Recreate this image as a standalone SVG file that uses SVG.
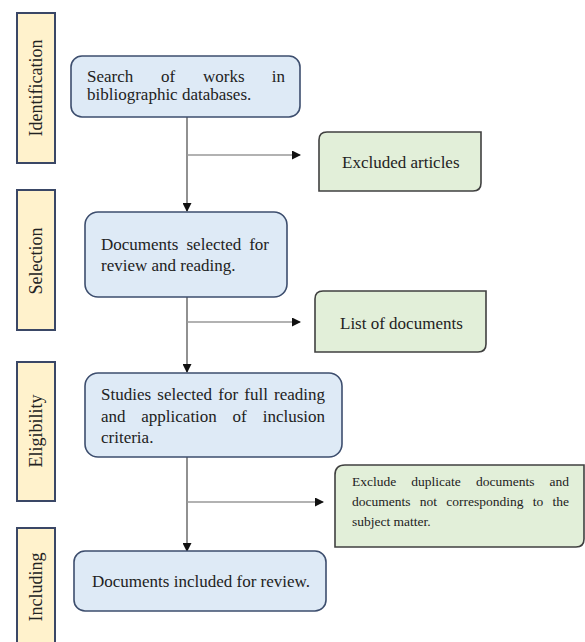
<svg xmlns="http://www.w3.org/2000/svg" width="585" height="642" viewBox="0 0 585 642">
<style>
.bar{fill:#fff2cc;stroke:#3a4766;stroke-width:2}
.blue{fill:#deeaf6;stroke:#3d4e6e;stroke-width:1.6}
.green{fill:#e2efd9;stroke:#404040;stroke-width:1.6}
.t{font-family:"Liberation Serif","Times New Roman",serif;font-size:17px;fill:#222}
.s{font-family:"Liberation Serif","Times New Roman",serif;font-size:13.5px;fill:#222}
.e{text-anchor:end}
.lab{font-family:"Liberation Serif","Times New Roman",serif;font-size:18px;fill:#222;text-anchor:middle}
.ln{stroke:#555;stroke-width:1.3;fill:none}
.br{stroke:#999;stroke-width:1.3;fill:none}
</style>
<defs>
<marker id="ah" markerWidth="9" markerHeight="9" refX="8" refY="4.5" orient="auto" markerUnits="userSpaceOnUse">
<path d="M0,0 L9,4.5 L0,9 Z" fill="#111"/>
</marker>
</defs>
<rect width="585" height="642" fill="#fff"/>

<g id="stage-identification">
<rect class="bar" x="17" y="13" width="38" height="150"/>
<text class="lab" transform="translate(42,88) rotate(-90)">Identification</text>
</g>
<g id="stage-selection">
<rect class="bar" x="17" y="190" width="38" height="140"/>
<text class="lab" transform="translate(42,261) rotate(-90)">Selection</text>
</g>
<g id="stage-eligibility">
<rect class="bar" x="17" y="362" width="38" height="139"/>
<text class="lab" transform="translate(42,431) rotate(-90)">Eligibility</text>
</g>
<g id="stage-including">
<path class="bar" d="M17,645 L17,528 L55,528 L55,645"/>
<text class="lab" transform="translate(42,587) rotate(-90)">Including</text>
</g>

<g id="connectors">
<line class="ln" x1="187" y1="117" x2="187" y2="211" marker-end="url(#ah)"/>
<line class="br" x1="187" y1="155" x2="300" y2="155" marker-end="url(#ah)"/>
<line class="ln" x1="187" y1="297" x2="187" y2="372" marker-end="url(#ah)"/>
<line class="br" x1="187" y1="322" x2="300" y2="322" marker-end="url(#ah)"/>
<line class="ln" x1="187" y1="457" x2="187" y2="551" marker-end="url(#ah)"/>
<line class="br" x1="187" y1="502" x2="323" y2="502" marker-end="url(#ah)"/>
</g>

<g id="search">
<rect class="blue" x="71" y="56" width="229" height="61" rx="11"/>
<text class="t" y="82"><tspan x="87">Search</tspan><tspan x="161">of</tspan><tspan x="203">works</tspan></text>
<text class="t e" x="285" y="82">in</text>
<text class="t" x="87" y="100">bibliographic databases.</text>
</g>
<g id="excluded-articles">
<path class="green" d="M327,132 L481,132 L481,183 Q481,191 473,191 L319,191 L319,140 Q319,132 327,132 Z"/>
<text class="t" x="342" y="168">Excluded articles</text>
</g>
<g id="documents-selected">
<rect class="blue" x="85" y="212" width="202" height="85" rx="13"/>
<text class="t" y="250"><tspan x="101">Documents</tspan><tspan x="186.5">selected</tspan></text>
<text class="t e" x="269" y="250">for</text>
<text class="t" x="101" y="271">review and reading.</text>
</g>
<g id="list-of-documents">
<path class="green" d="M323,291 L486,291 L486,344 Q486,352 478,352 L315,352 L315,299 Q315,291 323,291 Z"/>
<text class="t" x="340" y="329">List of documents</text>
</g>
<g id="studies-selected">
<rect class="blue" x="85" y="373" width="257" height="84" rx="13"/>
<text class="t" y="400"><tspan x="101">Studies</tspan><tspan x="157.3">selected</tspan><tspan x="218.3">for</tspan><tspan x="244.3">full</tspan></text>
<text class="t e" x="325" y="400">reading</text>
<text class="t" y="421.5"><tspan x="101">and</tspan><tspan x="141.3">application</tspan><tspan x="232.6">of</tspan></text>
<text class="t e" x="325" y="421.5">inclusion</text>
<text class="t" x="101" y="443">criteria.</text>
</g>
<g id="exclude-duplicates">
<path class="green" d="M345,465 L584,465 L584,539 Q584,547 576,547 L335,547 L335,475 Q335,465 345,465 Z"/>
<text class="s" y="486"><tspan x="352">Exclude</tspan><tspan x="411.3">duplicate</tspan><tspan x="475.9">documents</tspan></text>
<text class="s e" x="569" y="486">and</text>
<text class="s" y="506"><tspan x="352">documents</tspan><tspan x="419.8">not</tspan><tspan x="446.3">corresponding</tspan><tspan x="532.8">to</tspan></text>
<text class="s e" x="569" y="506">the</text>
<text class="s" x="352" y="526">subject matter.</text>
</g>
<g id="documents-included">
<rect class="blue" x="74" y="551" width="252" height="60" rx="11"/>
<text class="t" x="92" y="587">Documents included for review.</text>
</g>
</svg>
